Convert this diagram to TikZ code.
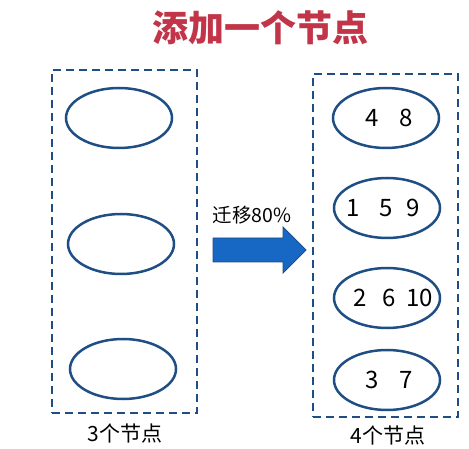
\documentclass[tikz,border=0pt]{standalone}
\usepackage{fontspec}
\setmainfont{Noto Sans CJK SC}
\usetikzlibrary{shapes.geometric}
\definecolor{navy}{RGB}{31,78,132}
\definecolor{arrowblue}{RGB}{22,104,196}
\definecolor{titlered}{RGB}{194,52,72}
\begin{document}
\begin{tikzpicture}[x=1pt, y=-1pt, every node/.style={font=\fontsize{24}{26}\selectfont},
  vnode/.style={ellipse, draw=navy, line width=2.5pt, minimum width=106pt, minimum height=60pt, inner sep=0pt},
  group/.style={draw=navy, line width=2.6pt, dash pattern=on 8pt off 5pt, minimum width=145pt, minimum height=343pt},
  grouplabel/.style={font=\fontsize{21}{23}\selectfont}]
  \useasboundingbox (0,0) rectangle (469,449);
  \node[font=\fontsize{36}{38}\selectfont\bfseries, text=titlered] (title) at (260,28) {添加一个节点};
  % before: 3 nodes
  \node[group] (lbox) at (124.5,241.5) {};
  \node[vnode] (a1) at (119,118) {};
  \node[vnode] (a2) at (121,244) {};
  \node[vnode] (a3) at (123,369) {};
  \node[grouplabel] (lcap) at (125,433) {3个节点};
  % after: 4 nodes
  \node[group] (rbox) at (385.5,245.5) {};
  \node[vnode] (b1) at (386,118) {\makebox[0pt]{\hspace{6pt}4\hspace{21pt}8}};
  \node[vnode] (b2) at (387,208) {\makebox[0pt]{1\hspace{20pt}5\hspace{14pt}9\hspace{8pt}}};
  \node[vnode] (b3) at (387,298) {\makebox[0pt]{\hspace{13pt}2\hspace{15pt}6\hspace{11pt}10}};
  \node[vnode] (b4) at (387,380) {\makebox[0pt]{\hspace{4pt}3\hspace{21pt}7}};
  \node[grouplabel] (rcap) at (388,435) {4个节点};
  % migration arrow
  \draw[fill=arrowblue, draw=navy, line width=0.8pt] (213,238) -- (283,238) -- (283,227) -- (306,250)
    -- (283,273) -- (283,262) -- (213,262) -- cycle;
  \node[font=\fontsize{19.5}{22}\selectfont] (mv) at (252,215) {迁移80\%};
\end{tikzpicture}
\end{document}
